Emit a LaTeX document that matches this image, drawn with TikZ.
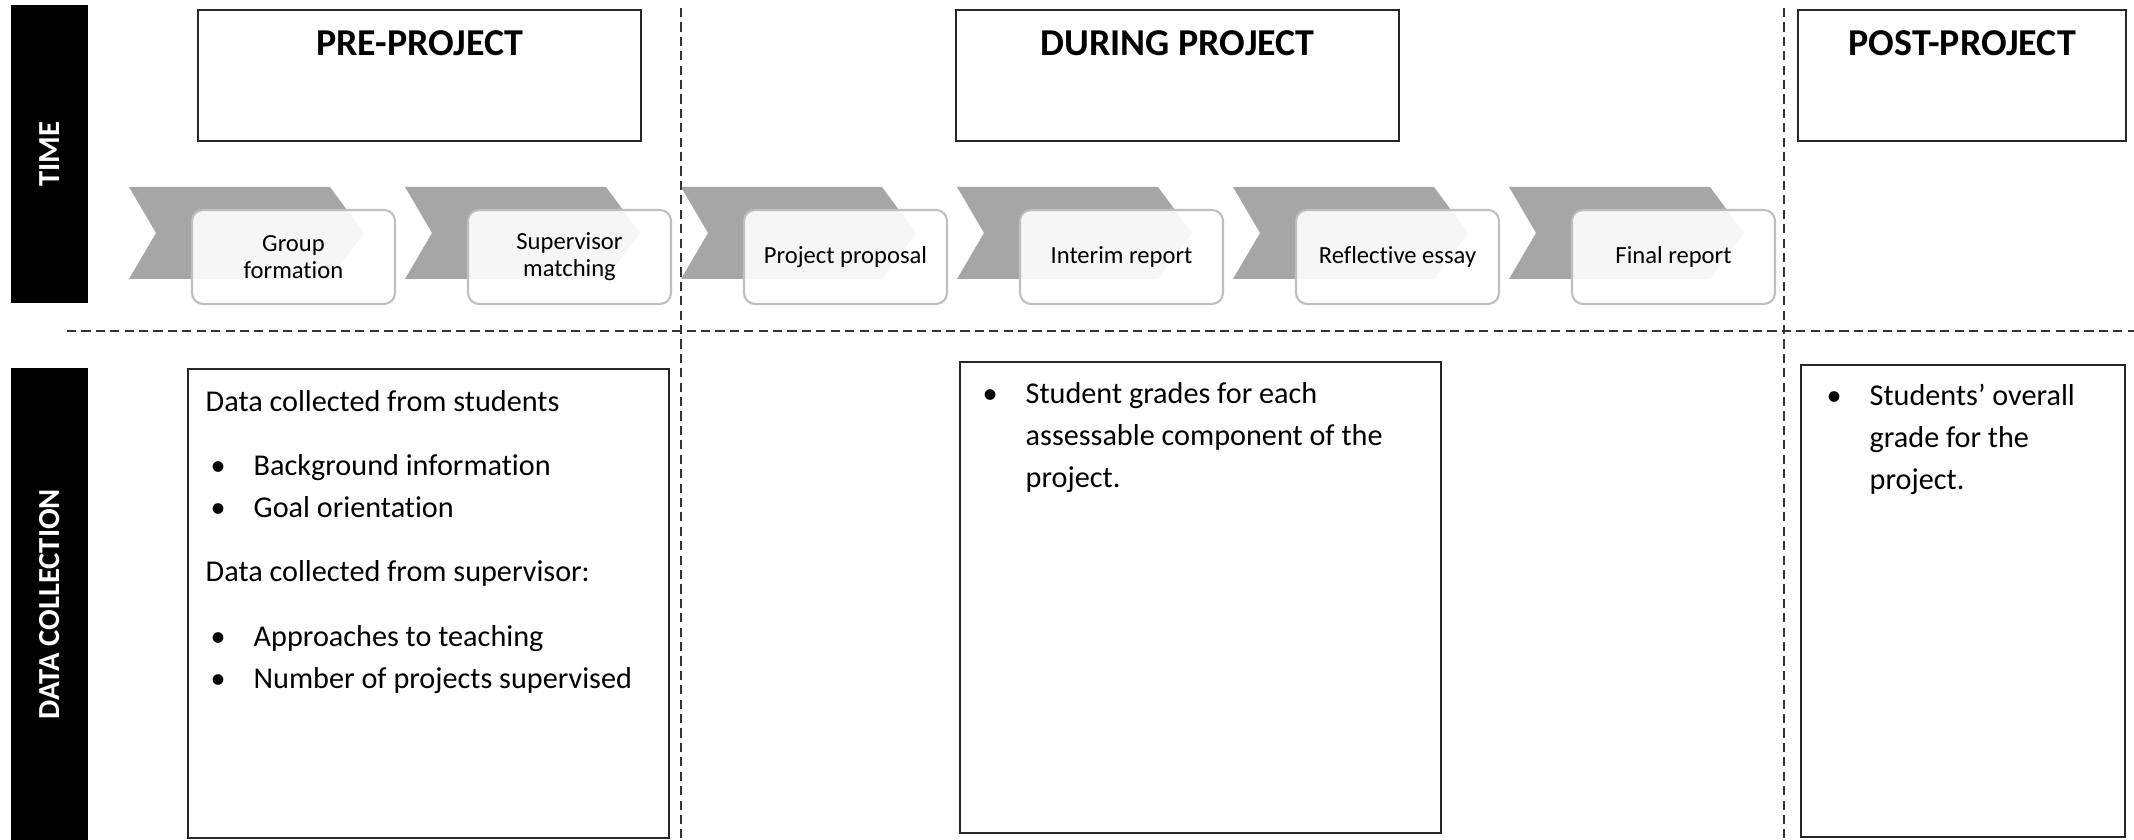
\documentclass[tikz,border=0pt]{standalone}
\usepackage{fontspec}
\setmainfont{Carlito}[Ligatures={TeX,NoCommon}]
\usetikzlibrary{positioning,calc}

\definecolor{chevgray}{HTML}{A6A6A6}
\definecolor{stepline}{HTML}{BFBFBF}

\newcommand{\bulletitem}[1]{\makebox[4.3mm][l]{\textbullet}#1}

\tikzstyle{sidebar} = [fill=black, rotate=90, inner sep=0pt, minimum height=7.7mm, text=white,
    font=\fontsize{8.7}{10}\selectfont\bfseries]
\tikzstyle{phasebox} = [draw=black!85, line width=0.7pt, anchor=north west, inner sep=0pt, minimum height=13.1mm]
\tikzstyle{phasetitle} = [anchor=base, inner sep=0pt, font=\fontsize{10.8}{13}\selectfont\bfseries]
\tikzstyle{chevron} = [fill=chevgray]
\tikzstyle{stepbox} = [draw=stepline, line width=0.6pt, rounded corners=1.1mm, fill=white, fill opacity=0.9,
    text opacity=1, minimum width=20.3mm, minimum height=9.4mm, align=center, font=\fontsize{7}{7.7}\selectfont]
\tikzstyle{databox} = [draw=black!85, line width=0.7pt, anchor=north west, inner sep=0pt]
\tikzstyle{datatext} = [anchor=north west, inner sep=0pt, align=left, font=\fontsize{8.6}{11.95}\selectfont]
\tikzstyle{divider} = [draw=black!80, line width=0.6pt, dash pattern=on 2.6pt off 1.5pt]

\begin{document}
\begin{tikzpicture}[x=0.1mm, y=-0.1mm]
\useasboundingbox (0,0) rectangle (2134,840);

% row labels
\node[sidebar, minimum width=29.8mm] (time) at (49.5,154) {TIME};
\node[sidebar, minimum width=47.2mm] (collect) at (49.5,604) {DATA COLLECTION};

% phases
\node[phasebox, minimum width=44.3mm] (pre) at (197,9) {};
\node[phasebox, minimum width=44.3mm] (during) at (955,9) {};
\node[phasebox, minimum width=32.8mm] (post) at (1797,9) {};
\node[phasetitle] (pretitle) at ($(pre.north)+(0,47)$) {PRE-PROJECT};
\node[phasetitle] (duringtitle) at ($(during.north)+(0,47)$) {DURING PROJECT};
\node[phasetitle] (posttitle) at ($(post.north)+(0,47)$) {POST-PROJECT};

% project steps
\foreach \i/\name/\txt in {0/grp/{Group\\formation}, 1/match/{Supervisor\\matching},
    2/prop/{Project proposal}, 3/inter/{Interim report}, 4/refl/{Reflective essay}, 5/final/{Final report}} {
  \coordinate (c\name) at (129+276*\i,187);
  \fill[chevron] (c\name) -- ++(201,0) -- ++(34,46) -- ++(-34,46) -- ++(-201,0) -- ++(27,-46) -- cycle;
  \node[stepbox] (\name) at (293.5+276*\i,257) {\txt};
}

% separators
\coordinate (sep1top) at (681,8);
\coordinate (sep1bot) at (681,840);
\coordinate (sep2top) at (1784,8);
\coordinate (sep2bot) at (1784,840);
\coordinate (rowl) at (67,331);
\coordinate (rowr) at (2134,331);
\draw[divider] (sep1top) -- (sep1bot);
\draw[divider] (sep2top) -- (sep2bot);
\draw[divider] (rowl) -- (rowr);

% data collected in each phase
\node[databox, minimum width=48.1mm, minimum height=46.9mm] (predata) at (187,368) {};
\node[databox, minimum width=48.1mm, minimum height=47.1mm] (duringdata) at (959,361) {};
\node[databox, minimum width=32.4mm, minimum height=47.2mm] (postdata) at (1800,364) {};

\node[datatext] (prelist) at (205,381.6) {\strut Data collected from students\\[6.3pt]
    \hspace*{0.5mm}\bulletitem{Background information}\\
    \hspace*{0.5mm}\bulletitem{Goal orientation}\\[6.3pt]
    Data collected from supervisor:\\[6.3pt]
    \hspace*{0.5mm}\bulletitem{Approaches to teaching}\\
    \hspace*{0.5mm}\bulletitem{Number of projects supervised}};
\node[datatext] (duringlist) at (982,373.6) {\strut\bulletitem{Student grades for each}\\
    \hspace*{4.3mm}assessable component of the\\
    \hspace*{4.3mm}project.};
\node[datatext] (postlist) at (1826,375.6) {\strut\bulletitem{Students’ overall}\\
    \hspace*{4.3mm}grade for the\\
    \hspace*{4.3mm}project.};
\end{tikzpicture}
\end{document}
